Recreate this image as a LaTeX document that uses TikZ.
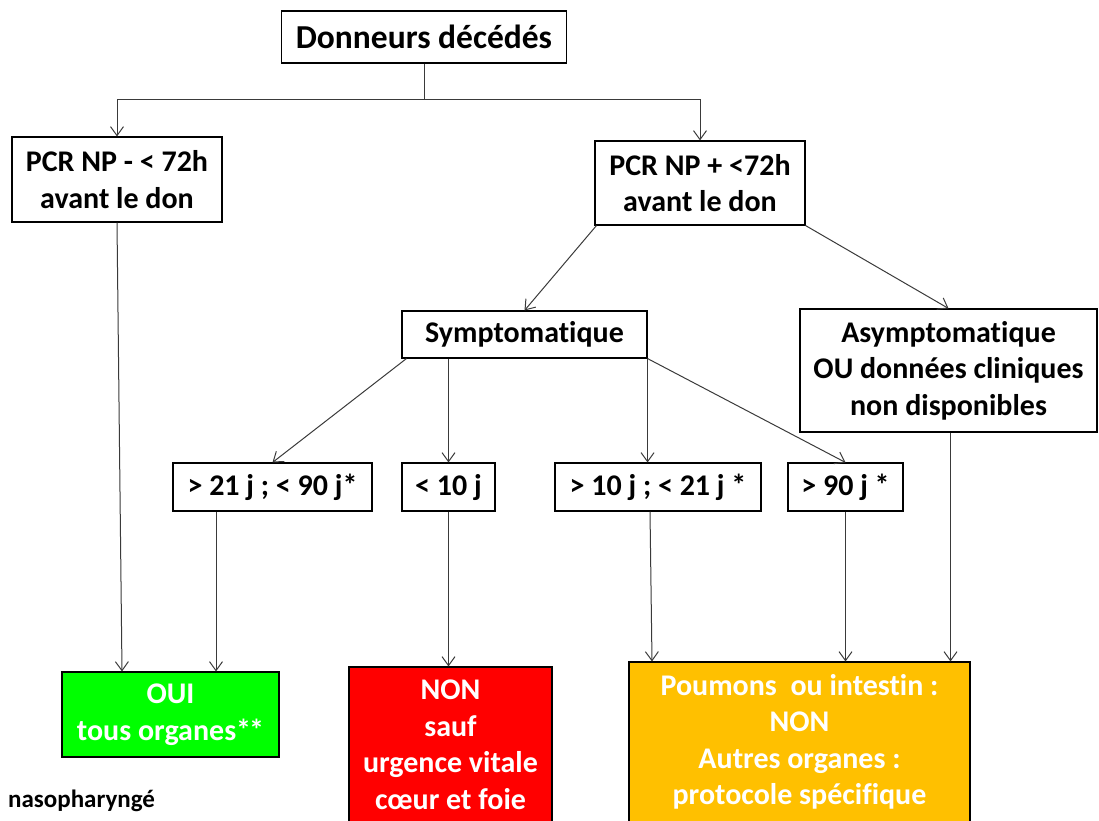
\documentclass[tikz,border=0pt]{standalone}
\usepackage{fontspec}
\setmainfont{Carlito}[Ligatures=NoCommon]
\usetikzlibrary{arrows.meta}
\definecolor{conn}{HTML}{3A3A3A}
\definecolor{vert}{HTML}{00FF00}
\definecolor{rouge}{HTML}{FF0000}
\definecolor{orangec}{HTML}{FFC000}
\tikzset{
  box/.style={draw=black, line width=1.1pt, fill=white, align=center, inner sep=0pt,
    font=\bfseries\fontsize{30}{36.5}\selectfont, text=black},
  result/.style={box, text=white},
  arr/.style={draw=conn, line width=1pt, -{Straight Barb[length=9pt,width=13pt]}},
  ln/.style={draw=conn, line width=1pt}
}
\begin{document}
\begin{tikzpicture}[x=1pt,y=-1pt]
\useasboundingbox (0,0) rectangle (1099,820);

\node[box, minimum width=285, minimum height=52, font=\bfseries\fontsize{33.5}{39}\selectfont] (top) at (424,37) {Donneurs décédés};
\node[box, minimum width=210, minimum height=85] (pcrneg) at (117,179.5) {PCR NP - < 72h\\avant le don};
\node[box, minimum width=210, minimum height=84] (pcrpos) at (700,183) {PCR NP + <72h\\avant le don};
\node[box, minimum width=245, minimum height=47] (sympt) at (524.5,334.5) {Symptomatique};
\node[box, minimum width=297, minimum height=123] (asympt) at (948.5,370.5) {Asymptomatique\\OU données cliniques\\non disponibles};
\node[box, minimum width=199, minimum height=48] (gt21) at (272.5,487) {> 21 j ; < 90 j*};
\node[box, minimum width=93, minimum height=48] (lt10) at (448.5,487) {< 10 j};
\node[box, minimum width=206, minimum height=48] (gt10) at (658,487) {> 10 j ; < 21 j *};
\node[box, minimum width=115, minimum height=48] (gt90) at (845.5,487) {> 90 j *};
\node[result, fill=vert, minimum width=217, minimum height=85] (oui) at (170.5,714.5) {OUI\\tous organes*\kern-2pt*};
\node[result, fill=rouge, minimum width=203, minimum height=156] (non) at (450.5,745) {NON\\sauf\\urgence vitale\\cœur et foie};
\node[result, fill=orangec, minimum width=341, minimum height=160] (orange) at (799.5,742) {Poumons~ ou intestin :\\NON\\Autres organes :\\protocole spécifique};
\node[font=\bfseries\fontsize{25}{30}\selectfont, anchor=base west, inner sep=0pt] (naso) at (8,807) {nasopharyngé};

\coordinate (split) at (top.south |- 0,99);
\draw[ln] (top.south) -- (split);
\draw[arr] (split) -| (pcrneg.north);
\draw[arr] (split) -| (pcrpos.north);
\draw[arr] (pcrneg.south) -- ([xshift=-48.5]oui.north);
\draw[arr] ([xshift=2]pcrpos.south west) -- (sympt.north);
\draw[arr] (pcrpos.south east) -- (asympt.north);
\draw[arr] ([xshift=5]sympt.south west) -- (gt21.north);
\draw[arr] (lt10.north |- sympt.south) -- (lt10.north);
\draw[arr] (sympt.south east) -- (sympt.south east |- gt10.north);
\draw[arr] (sympt.south east) -- (gt90.north);
\draw[arr] ([xshift=-56.5]gt21.south) -- ([xshift=-56.5]gt21.south |- oui.north);
\draw[arr] (lt10.south) -- (lt10.south |- non.north);
\draw[arr] ([xshift=-8]gt10.south) -- ([xshift=-147.5]orange.north);
\draw[arr] (gt90.south) -- (gt90.south |- orange.north);
\draw[arr] ([xshift=2]asympt.south) -- ([xshift=2]asympt.south |- orange.north);
\end{tikzpicture}
\end{document}
